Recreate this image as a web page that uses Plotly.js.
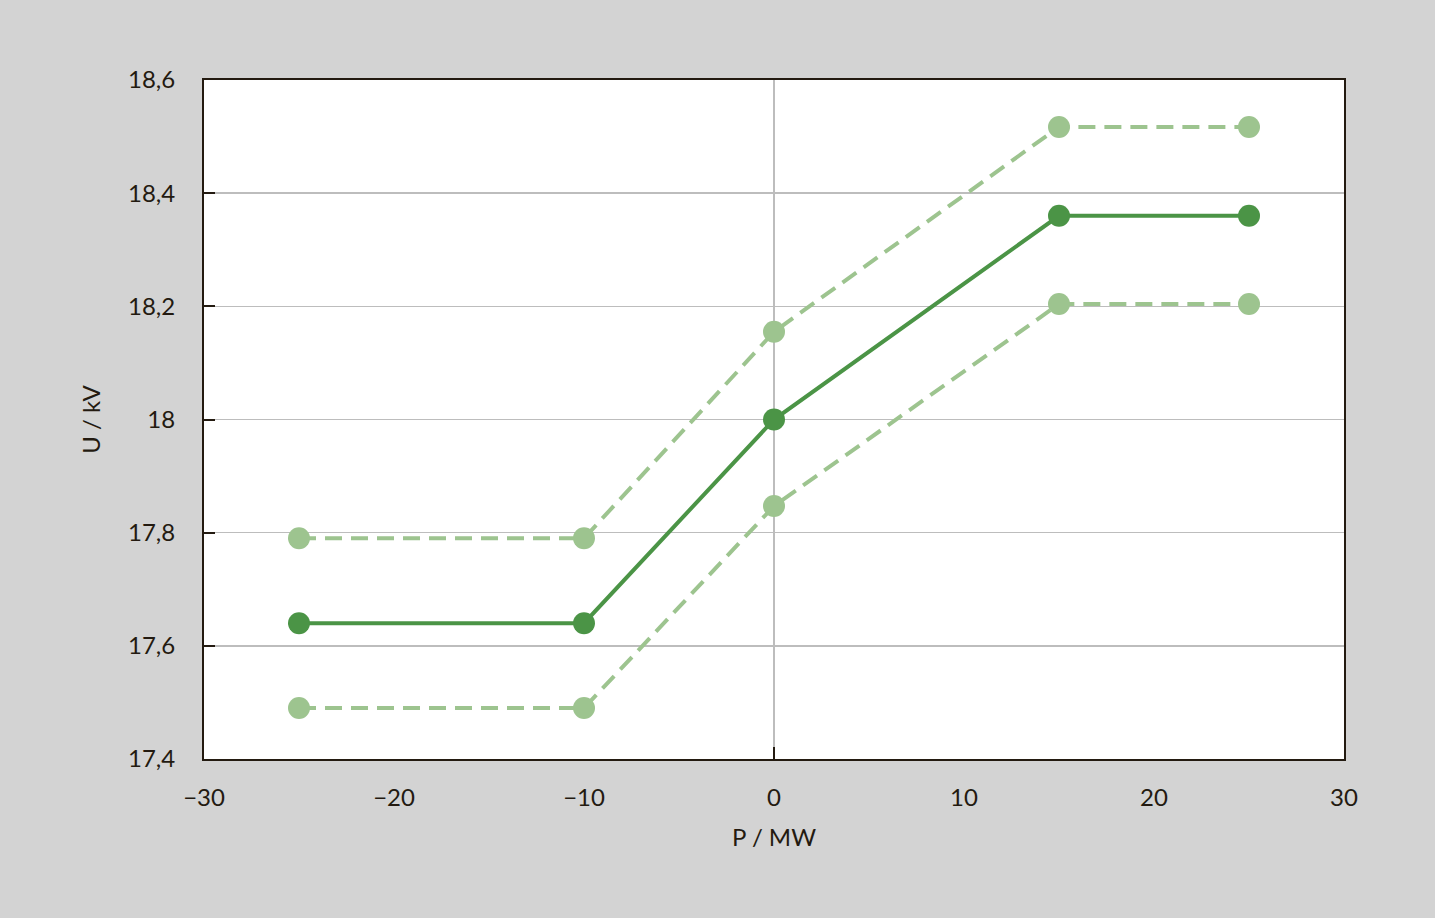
<!DOCTYPE html>
<html>
<head>
<meta charset="utf-8">
<script src="https://cdn.plot.ly/plotly-3.0.1.min.js"></script>
<style>html,body{margin:0;padding:0;background:#d3d3d3;}#chart{width:1435px;height:918px;}</style>
</head>
<body>
<div id="chart"></div>
<script>
const pMW = [-25, -10, 0, 15, 25];
const uNominal = [17.64, 17.64, 18.0, 18.36, 18.36];
const uUpper = [17.79, 17.79, 18.155, 18.517, 18.517];
const uLower = [17.49, 17.49, 17.847, 18.204, 18.204];

const dark = '#4b9446';
const light = '#9dc48f';
const ink = '#231a10';
const fontFam = 'Lato, "Open Sans", sans-serif';

const traces = [
  {x: pMW, y: uUpper, mode: 'lines+markers', line: {color: light, width: 4, dash: '17px,9px'}, marker: {color: light, size: 22}, showlegend: false},
  {x: pMW, y: uLower, mode: 'lines+markers', line: {color: light, width: 4, dash: '17px,9px'}, marker: {color: light, size: 22}, showlegend: false},
  {x: pMW, y: uNominal, mode: 'lines+markers', line: {color: dark, width: 4}, marker: {color: dark, size: 22}, showlegend: false}
];

const layout = {
  width: 1435, height: 918,
  paper_bgcolor: '#d3d3d3', plot_bgcolor: '#ffffff',
  separators: ',.',
  font: {family: fontFam, size: 24, color: ink},
  margin: {l: 204, r: 91, t: 80, b: 159, pad: 0},
  xaxis: {
    range: [-30, 30], dtick: 10, tick0: 0,
    showgrid: false, zeroline: true, zerolinecolor: '#bdbdbd', zerolinewidth: 1.5,
    showline: true, linecolor: ink, linewidth: 2, mirror: true,
    ticks: '', ticklabelstandoff: 16,
    title: {text: 'P / MW', font: {size: 24, color: ink}, standoff: 19}
  },
  xaxis2: {
    range: [-30, 30], overlaying: 'x', anchor: 'y', side: 'bottom',
    tickvals: [0], showticklabels: false, ticks: 'inside', ticklen: 12, tickwidth: 2, tickcolor: ink,
    showgrid: false, zeroline: false, showline: false
  },
  yaxis: {
    range: [17.4, 18.6], dtick: 0.2, tick0: 17.4,
    showgrid: true, gridcolor: '#bdbdbd', gridwidth: 1.5, zeroline: false,
    showline: true, linecolor: ink, linewidth: 2, mirror: true,
    ticks: 'inside', ticklen: 11, tickwidth: 2, tickcolor: ink, ticklabelstandoff: 22,
    title: {text: 'U / kV', font: {size: 24, color: ink}, standoff: 21}
  }
};

Plotly.newPlot('chart', traces.concat([{x: [0], y: [18], xaxis: 'x2', mode: 'markers', marker: {opacity: 0}, hoverinfo: 'skip', showlegend: false}]), layout, {displayModeBar: false, staticPlot: true});
</script>
</body>
</html>
